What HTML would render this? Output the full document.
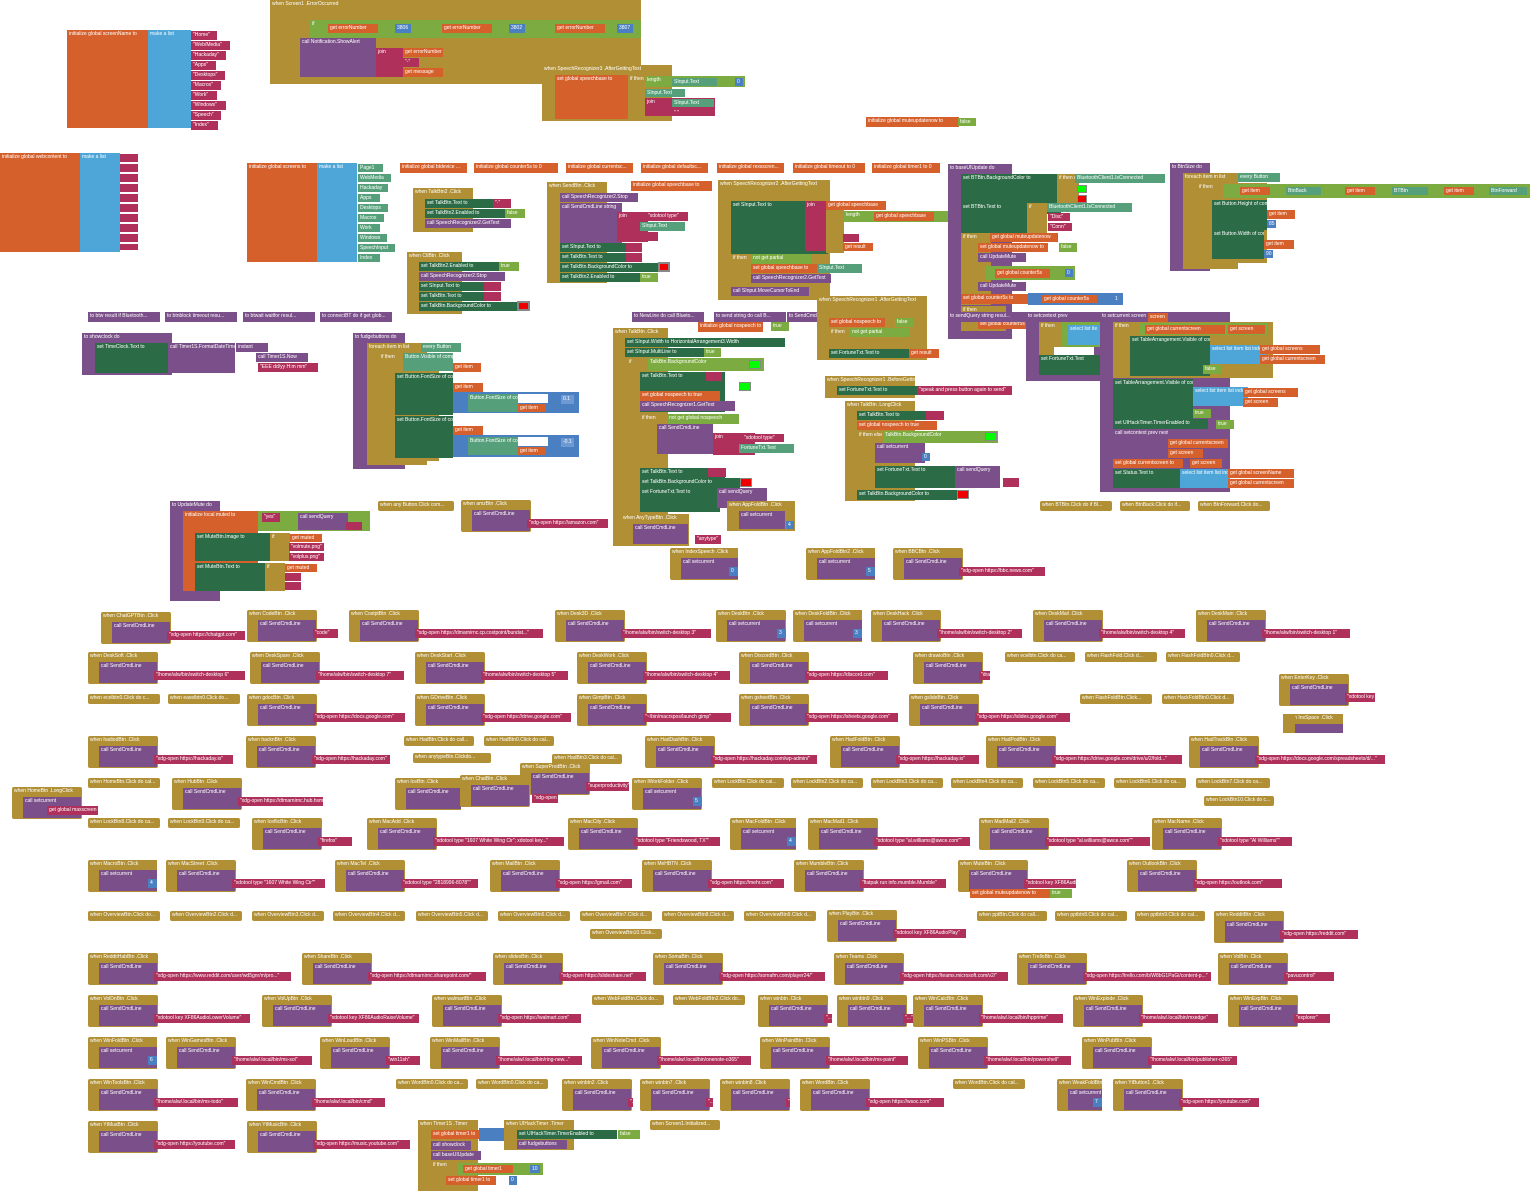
<!DOCTYPE html>
<html><head><meta charset="utf-8"><style>
body{margin:0;width:1534px;height:1195px;position:relative;background:#fff;font:5px "Liberation Sans",sans-serif;color:#fff;overflow:hidden}
div{position:absolute;box-sizing:border-box;white-space:nowrap;overflow:hidden;line-height:9px;padding-left:2px}
.G{background:#b08f35}.P{background:#7b4f89}.K{background:#b0305c}.O{background:#d6602c}.B{background:#4da5d8}.D{background:#2b6b46}.L{background:#7cab41}.M{background:#55a07a}.N{background:#4a7fc1}.W{background:#fff}
.e{height:32px;padding:0}
.e .g{left:0;top:0;width:70px;height:32px;background:#b08f35;border-radius:2px}
.e .p{left:11px;top:10px;width:58px;height:21px;background:#7b4f89}
.e .k{left:66px;right:0;top:19px;height:9px;background:#b0305c}
.e .kb{left:auto;right:0;width:9px;background:#4a7fc1}
.c{height:10px;width:76px;background:#b08f35;border-radius:2px}
.cp{height:10px;width:72px;background:#7b4f89}
.co{height:10px;width:72px;background:#d6602c}
</style></head><body>

<!-- init screenName -->
<div class="O" style="left:67px;top:30px;width:81px;height:98px">initialize global screenName to</div>
<div class="B" style="left:148px;top:30px;width:43px;height:98px">make a list</div>
<div class="K" style="left:191px;top:31px;width:26px;height:9px">"Home"</div>
<div class="K" style="left:191px;top:41px;width:39px;height:9px">"Web/Media"</div>
<div class="K" style="left:191px;top:51px;width:35px;height:9px">"Hackaday"</div>
<div class="K" style="left:191px;top:61px;width:25px;height:9px">"Apps"</div>
<div class="K" style="left:191px;top:71px;width:34px;height:9px">"Desktops"</div>
<div class="K" style="left:191px;top:81px;width:30px;height:9px">"Macros"</div>
<div class="K" style="left:191px;top:91px;width:26px;height:9px">"Work"</div>
<div class="K" style="left:191px;top:101px;width:35px;height:9px">"Windows"</div>
<div class="K" style="left:191px;top:111px;width:30px;height:9px">"Speech"</div>
<div class="K" style="left:191px;top:121px;width:27px;height:9px">"Index"</div>

<!-- ErrorOccurred -->
<div class="G" style="left:270px;top:0;width:371px;height:84px">when Screen1 .ErrorOccurred</div>
<div class="W" style="left:283px;top:22px;width:358px;height:60px;background:transparent"></div>
<div class="L" style="left:310px;top:20px;width:331px;height:18px">if</div>
<div class="O" style="left:328px;top:24px;width:50px;height:9px">get errorNumber</div>
<div class="N" style="left:395px;top:24px;width:16px;height:9px">3806</div>
<div class="O" style="left:442px;top:24px;width:50px;height:9px">get errorNumber</div>
<div class="N" style="left:509px;top:24px;width:16px;height:9px">3802</div>
<div class="O" style="left:555px;top:24px;width:50px;height:9px">get errorNumber</div>
<div class="N" style="left:617px;top:24px;width:16px;height:9px">3807</div>
<div class="P" style="left:300px;top:38px;width:76px;height:39px">call Notification.ShowAlert</div>
<div class="K" style="left:376px;top:48px;width:27px;height:29px">join</div>
<div class="O" style="left:403px;top:48px;width:40px;height:9px">get errorNumber</div>
<div class="K" style="left:403px;top:58px;width:16px;height:9px">"-"</div>
<div class="O" style="left:403px;top:68px;width:40px;height:9px">get message</div>

<!-- SpeechRecognizer AfterGettingText top -->
<div class="G" style="left:542px;top:65px;width:130px;height:56px">when SpeechRecognizer3 .AfterGettingText</div>
<div class="O" style="left:555px;top:75px;width:73px;height:44px">set global speechbase to</div>
<div class="G" style="left:628px;top:75px;width:40px;height:36px">if then else</div>
<div class="L" style="left:645px;top:76px;width:100px;height:11px">length</div>
<div class="M" style="left:672px;top:78px;width:45px;height:8px">SInput.Text</div>
<div class="N" style="left:735px;top:78px;width:8px;height:8px">0</div>
<div class="M" style="left:645px;top:89px;width:40px;height:8px">SInput.Text</div>
<div class="K" style="left:645px;top:98px;width:70px;height:18px">join</div>
<div class="M" style="left:672px;top:99px;width:42px;height:8px">SInput.Text</div>
<div class="K" style="left:672px;top:109px;width:16px;height:7px">" "</div>

<div class="O" style="left:866px;top:117px;width:93px;height:10px">initialize global muteupdatenow to</div>
<div class="L" style="left:958px;top:118px;width:18px;height:8px">false</div>

<!-- webcontent -->
<div class="O" style="left:0;top:153px;width:80px;height:99px">initialize global webcontent to</div>
<div class="B" style="left:80px;top:153px;width:40px;height:99px">make a list</div>
<div class="K" style="left:120px;top:154px;width:18px;height:96px;background:repeating-linear-gradient(#b0305c 0 8px,#fff 8px 10px)"></div>

<!-- screens -->
<div class="O" style="left:247px;top:163px;width:70px;height:99px">initialize global screens to</div>
<div class="B" style="left:317px;top:163px;width:40px;height:99px">make a list</div>
<div class="M" style="left:358px;top:164px;width:25px;height:8px">Page1</div>
<div class="M" style="left:358px;top:174px;width:33px;height:8px">WebMedia</div>
<div class="M" style="left:358px;top:184px;width:30px;height:8px">Hackaday</div>
<div class="M" style="left:358px;top:194px;width:22px;height:8px">Apps</div>
<div class="M" style="left:358px;top:204px;width:30px;height:8px">Desktops</div>
<div class="M" style="left:358px;top:214px;width:26px;height:8px">Macros</div>
<div class="M" style="left:358px;top:224px;width:22px;height:8px">Work</div>
<div class="M" style="left:358px;top:234px;width:29px;height:8px">Windows</div>
<div class="M" style="left:358px;top:244px;width:37px;height:8px">SpeechInput</div>
<div class="M" style="left:358px;top:254px;width:22px;height:8px">Index</div>

<div class="co" style="left:400px;top:163px;width:67px">initialize global btdevice ...</div>
<div class="co" style="left:474px;top:163px;width:84px">initialize global counter5s to 0</div>
<div class="co" style="left:566px;top:163px;width:67px">initialize global currentsc...</div>
<div class="co" style="left:641px;top:163px;width:67px">initialize global defaultsc...</div>
<div class="co" style="left:717px;top:163px;width:67px">initialize global rexsscren...</div>
<div class="co" style="left:793px;top:163px;width:72px">initialize global timeout to 0</div>
<div class="co" style="left:872px;top:163px;width:68px">initialize global timer1 to 0</div>

<!-- Talk2 click -->
<div class="G" style="left:413px;top:188px;width:60px;height:44px">when TalkBtn2 .Click</div>
<div class="D" style="left:425px;top:199px;width:68px;height:9px">set TalkBtn.Text to</div>
<div class="K" style="left:493px;top:199px;width:18px;height:9px">"·"</div>
<div class="D" style="left:425px;top:209px;width:83px;height:9px">set TalkBtn2.Enabled to</div>
<div class="L" style="left:505px;top:209px;width:20px;height:9px">false</div>
<div class="P" style="left:425px;top:219px;width:86px;height:9px">call SpeechRecognizer2.GetText</div>
<!-- CtlBtn -->
<div class="G" style="left:407px;top:252px;width:55px;height:62px">when CtlBtn .Click</div>
<div class="D" style="left:419px;top:262px;width:80px;height:9px">set TalkBtn2.Enabled to</div>
<div class="L" style="left:499px;top:262px;width:20px;height:9px">true</div>
<div class="P" style="left:419px;top:272px;width:86px;height:9px">call SpeechRecognizer2.Stop</div>
<div class="D" style="left:419px;top:282px;width:65px;height:9px">set SInput.Text to</div>
<div class="K" style="left:484px;top:282px;width:17px;height:9px"></div>
<div class="D" style="left:419px;top:292px;width:65px;height:9px">set TalkBtn.Text to</div>
<div class="K" style="left:484px;top:292px;width:17px;height:9px"></div>
<div class="D" style="left:419px;top:302px;width:100px;height:9px">set TalkBtn.BackgroundColor to</div>
<div style="left:517px;top:301px;width:13px;height:10px;background:#e00;border:2px solid #888"></div>

<!-- SendBtn -->
<div class="G" style="left:547px;top:182px;width:60px;height:101px">when SendBtn .Click</div>
<div class="P" style="left:560px;top:193px;width:78px;height:9px">call SpeechRecognizer2.Stop</div>
<div class="P" style="left:560px;top:203px;width:62px;height:41px">call SendCmdLine string</div>
<div class="K" style="left:617px;top:212px;width:31px;height:30px">join</div>
<div class="K" style="left:646px;top:212px;width:42px;height:9px">"xdotool type"</div>
<div class="M" style="left:640px;top:222px;width:45px;height:9px">SInput.Text</div>
<div class="K" style="left:640px;top:232px;width:18px;height:9px"></div>
<div class="D" style="left:560px;top:243px;width:68px;height:9px">set SInput.Text to</div>
<div class="K" style="left:626px;top:243px;width:16px;height:9px"></div>
<div class="D" style="left:560px;top:253px;width:68px;height:9px">set TalkBtn.Text to</div>
<div class="K" style="left:626px;top:253px;width:16px;height:9px"></div>
<div class="D" style="left:560px;top:263px;width:100px;height:9px">set TalkBtn.BackgroundColor to</div>
<div style="left:658px;top:262px;width:12px;height:10px;background:#e00;border:2px solid #888"></div>
<div class="D" style="left:560px;top:273px;width:80px;height:9px">set TalkBtn2.Enabled to</div>
<div class="L" style="left:640px;top:273px;width:18px;height:9px">true</div>
<div class="co" style="left:631px;top:181px;width:81px">initialize global speechbase to</div>

<!-- SpeechRecognizer2 AfterGettingText -->
<div class="G" style="left:718px;top:180px;width:112px;height:120px">when SpeechRecognizer2 .AfterGettingText</div>
<div class="D" style="left:731px;top:201px;width:97px;height:53px">set SInput.Text to</div>
<div class="K" style="left:805px;top:201px;width:22px;height:50px">join</div>
<div class="G" style="left:826px;top:201px;width:18px;height:52px"></div>
<div class="O" style="left:826px;top:201px;width:60px;height:9px">get global speechbase</div>
<div class="L" style="left:844px;top:211px;width:116px;height:11px">length</div>
<div class="O" style="left:874px;top:212px;width:60px;height:9px">get global speechbase</div>
<div class="N" style="left:950px;top:212px;width:8px;height:8px">0</div>
<div class="K" style="left:843px;top:234px;width:16px;height:8px"></div>
<div class="O" style="left:843px;top:243px;width:30px;height:8px">get result</div>
<div class="G" style="left:731px;top:254px;width:20px;height:32px">if then</div>
<div class="L" style="left:751px;top:254px;width:60px;height:10px">not get partial</div>
<div class="O" style="left:751px;top:264px;width:66px;height:9px">set global speechbase to</div>
<div class="M" style="left:817px;top:264px;width:45px;height:9px">SInput.Text</div>
<div class="P" style="left:751px;top:274px;width:80px;height:9px">call SpeechRecognizer2.GetText</div>
<div class="P" style="left:731px;top:287px;width:78px;height:9px">call SInput.MoveCursorToEnd</div>

<!-- barsUIUpdate -->
<div class="P" style="left:948px;top:164px;width:64px;height:175px">to baseUIUpdate do</div>
<div class="D" style="left:961px;top:174px;width:100px;height:40px">set BTBtn.BackgroundColor to</div>
<div class="G" style="left:1057px;top:174px;width:22px;height:30px">if then else</div>
<div class="M" style="left:1075px;top:174px;width:90px;height:9px">BluetoothClient1.IsConnected</div>
<div style="left:1077px;top:185px;width:10px;height:8px;background:#0f0;border:1px solid #888"></div>
<div style="left:1077px;top:195px;width:10px;height:8px;background:#e00;border:1px solid #888"></div>
<div class="D" style="left:961px;top:203px;width:70px;height:30px">set BTBtn.Text to</div>
<div class="G" style="left:1027px;top:203px;width:20px;height:30px">if</div>
<div class="M" style="left:1047px;top:203px;width:85px;height:9px">BluetoothClient1.IsConnected</div>
<div class="K" style="left:1048px;top:213px;width:22px;height:8px">"Disc"</div>
<div class="K" style="left:1048px;top:223px;width:24px;height:8px">"Conn"</div>
<div class="G" style="left:961px;top:233px;width:30px;height:72px">if then</div>
<div class="O" style="left:990px;top:233px;width:68px;height:9px">get global muteupdatenow</div>
<div class="O" style="left:978px;top:243px;width:70px;height:9px">set global muteupdatenow to</div>
<div class="L" style="left:1059px;top:243px;width:18px;height:9px">false</div>
<div class="P" style="left:978px;top:253px;width:48px;height:9px">call UpdateMute</div>
<div class="L" style="left:985px;top:266px;width:90px;height:14px"></div>
<div class="O" style="left:995px;top:269px;width:55px;height:9px">get global counter5s</div>
<div class="N" style="left:1065px;top:269px;width:8px;height:8px">0</div>
<div class="P" style="left:978px;top:282px;width:48px;height:9px">call UpdateMute</div>
<div class="O" style="left:961px;top:294px;width:70px;height:10px">set global counter5s to</div>
<div class="N" style="left:1028px;top:293px;width:95px;height:12px"></div>
<div class="O" style="left:1042px;top:295px;width:55px;height:8px">get global counter5s</div>
<div class="N" style="left:1113px;top:295px;width:8px;height:8px">1</div>
<div class="G" style="left:961px;top:306px;width:45px;height:25px">if then</div>
<div class="O" style="left:978px;top:320px;width:50px;height:9px">set global counter5s</div>
<div class="cp" style="left:948px;top:312px;width:80px">to sendQuery string resul...</div>

<!-- BtnSize -->
<div class="P" style="left:1170px;top:163px;width:40px;height:108px">to BtnSize do</div>
<div class="G" style="left:1183px;top:173px;width:55px;height:96px">foreach item in list</div>
<div class="M" style="left:1238px;top:173px;width:42px;height:9px">every Button</div>
<div class="G" style="left:1197px;top:183px;width:70px;height:80px">if then</div>
<div class="L" style="left:1223px;top:184px;width:307px;height:14px"></div>
<div class="O" style="left:1240px;top:187px;width:30px;height:8px">get item</div>
<div class="M" style="left:1286px;top:187px;width:35px;height:8px">BtnBack</div>
<div class="O" style="left:1345px;top:187px;width:30px;height:8px">get item</div>
<div class="M" style="left:1392px;top:187px;width:36px;height:8px">BTBtn</div>
<div class="O" style="left:1444px;top:187px;width:30px;height:8px">get item</div>
<div class="M" style="left:1489px;top:187px;width:38px;height:8px">BtnForward</div>
<div class="D" style="left:1212px;top:200px;width:55px;height:30px">set Button.Height of component to</div>
<div class="O" style="left:1267px;top:210px;width:28px;height:9px">get item</div>
<div class="N" style="left:1267px;top:220px;width:9px;height:8px">85</div>
<div class="D" style="left:1212px;top:230px;width:52px;height:29px">set Button.Width of component to</div>
<div class="O" style="left:1264px;top:240px;width:30px;height:9px">get item</div>
<div class="N" style="left:1264px;top:250px;width:9px;height:8px">90</div>

<!-- collapsed purple row -->
<div class="cp" style="left:88px;top:312px">to btw result if Bluetooth...</div>
<div class="cp" style="left:165px;top:312px">to btnblock timeout resu...</div>
<div class="cp" style="left:243px;top:312px">to btwait waitfor resul...</div>
<div class="cp" style="left:320px;top:312px">to connectBT do if get glob...</div>
<div class="cp" style="left:632px;top:312px">to NewLine do call Blueto...</div>
<div class="cp" style="left:714px;top:312px">to send string do call B...</div>
<div class="cp" style="left:787px;top:312px;width:34px">to SendCmd...</div>
<div class="co" style="left:698px;top:322px;width:65px">initialize global nospeech to</div>
<div class="L" style="left:771px;top:322px;width:18px;height:9px">true</div>

<!-- showclock -->
<div class="P" style="left:82px;top:333px;width:90px;height:42px">to showclock do</div>
<div class="D" style="left:95px;top:343px;width:73px;height:30px">set TimeClock.Text to</div>
<div class="P" style="left:168px;top:343px;width:67px;height:30px">call Timer1S.FormatDateTime</div>
<div class="P" style="left:236px;top:343px;width:32px;height:9px">instant</div>
<div class="P" style="left:256px;top:353px;width:52px;height:9px">call Timer1S.Now</div>
<div class="K" style="left:258px;top:363px;width:60px;height:9px">"EEE dd/yy H:m mm"</div>

<!-- fudgebuttons -->
<div class="P" style="left:353px;top:333px;width:52px;height:136px">to fudgebuttons do</div>
<div class="G" style="left:367px;top:343px;width:60px;height:122px">foreach item in list</div>
<div class="M" style="left:421px;top:343px;width:40px;height:9px">every Button</div>
<div class="G" style="left:379px;top:353px;width:60px;height:108px">if then</div>
<div class="M" style="left:403px;top:353px;width:50px;height:18px">Button.Visible of component</div>
<div class="O" style="left:453px;top:363px;width:28px;height:9px">get item</div>
<div class="D" style="left:395px;top:373px;width:58px;height:42px">set Button.FontSize of component to</div>
<div class="O" style="left:453px;top:383px;width:30px;height:9px">get item</div>
<div class="N" style="left:453px;top:392px;width:126px;height:21px"></div>
<div class="M" style="left:468px;top:394px;width:50px;height:18px">Button.FontSize of component</div>
<div class="W" style="left:518px;top:394px;width:30px;height:9px"></div>
<div class="O" style="left:518px;top:404px;width:28px;height:8px">get item</div>
<div class="W" style="left:561px;top:395px;width:13px;height:9px;background:#6d9ad3">0.1</div>
<div class="D" style="left:395px;top:416px;width:58px;height:42px">set Button.FontSize of component to</div>
<div class="O" style="left:453px;top:426px;width:30px;height:9px">get item</div>
<div class="N" style="left:453px;top:435px;width:126px;height:22px"></div>
<div class="M" style="left:468px;top:437px;width:50px;height:18px">Button.FontSize of component</div>
<div class="W" style="left:518px;top:437px;width:30px;height:9px"></div>
<div class="O" style="left:518px;top:447px;width:28px;height:8px">get item</div>
<div class="W" style="left:561px;top:438px;width:13px;height:9px;background:#6d9ad3">-0.1</div>

<!-- TalkBtn click big -->
<div class="G" style="left:613px;top:328px;width:55px;height:218px">when TalkBtn .Click</div>
<div class="D" style="left:625px;top:338px;width:160px;height:9px">set SInput.Width to HorizontalArrangement3.Width</div>
<div class="D" style="left:625px;top:348px;width:96px;height:9px">set SInput.MultiLine to</div>
<div class="L" style="left:704px;top:348px;width:17px;height:9px">true</div>
<div class="G" style="left:627px;top:358px;width:30px;height:155px">if</div>
<div class="L" style="left:648px;top:358px;width:116px;height:13px">TalkBtn.BackgroundColor</div>
<div style="left:749px;top:360px;width:12px;height:9px;background:#0f0;border:1px solid #888"></div>
<div class="D" style="left:640px;top:372px;width:85px;height:40px">set TalkBtn.Text to</div>
<div class="K" style="left:706px;top:372px;width:16px;height:9px"></div>
<div style="left:739px;top:382px;width:12px;height:9px;background:#0f0;border:1px solid #888"></div>
<div class="O" style="left:640px;top:391px;width:80px;height:10px">set global nospeech to true</div>
<div class="P" style="left:640px;top:401px;width:95px;height:10px">call SpeechRecognizer1.GetText</div>
<div class="G" style="left:640px;top:414px;width:30px;height:35px">if then</div>
<div class="L" style="left:667px;top:414px;width:72px;height:10px">not get global nospeech</div>
<div class="P" style="left:657px;top:424px;width:56px;height:30px">call SendCmdLine</div>
<div class="K" style="left:713px;top:433px;width:42px;height:22px">join</div>
<div class="K" style="left:742px;top:434px;width:42px;height:8px">"xdotool type"</div>
<div class="M" style="left:739px;top:444px;width:55px;height:9px">FortuneTxt.Text</div>
<div class="D" style="left:640px;top:468px;width:85px;height:10px">set TalkBtn.Text to</div>
<div class="K" style="left:708px;top:468px;width:18px;height:9px"></div>
<div class="D" style="left:640px;top:478px;width:100px;height:10px">set TalkBtn.BackgroundColor to</div>
<div style="left:740px;top:478px;width:12px;height:9px;background:#e00;border:1px solid #888"></div>
<div class="D" style="left:640px;top:488px;width:80px;height:24px">set FortuneTxt.Text to</div>
<div class="P" style="left:717px;top:488px;width:50px;height:20px">call sendQuery</div>
<div class="G" style="left:621px;top:514px;width:68px;height:32px">when AnyTypeBtn .Click</div>
<div class="P" style="left:633px;top:524px;width:55px;height:20px">call SendCmdLine</div>
<div class="K" style="left:695px;top:535px;width:26px;height:9px">"anytype"</div>
<div class="G" style="left:727px;top:501px;width:68px;height:30px">when AppFoldBtn .Click</div>
<div class="P" style="left:739px;top:511px;width:46px;height:18px">call setcurrent</div>
<div class="N" style="left:786px;top:521px;width:8px;height:8px">4</div>

<!-- SpeechRecognizer1 AfterGettingText -->
<div class="G" style="left:817px;top:296px;width:110px;height:64px">when SpeechRecognizer1 .AfterGettingText</div>
<div class="O" style="left:829px;top:318px;width:56px;height:9px">set global nospeech to</div>
<div class="L" style="left:895px;top:318px;width:18px;height:9px">false</div>
<div class="G" style="left:829px;top:328px;width:25px;height:20px">if then</div>
<div class="L" style="left:850px;top:328px;width:60px;height:9px">not get partial</div>
<div class="D" style="left:829px;top:349px;width:80px;height:9px">set FortuneTxt.Text to</div>
<div class="O" style="left:909px;top:349px;width:30px;height:9px">get result</div>
<!-- BeforeGettingText -->
<div class="G" style="left:825px;top:376px;width:90px;height:22px">when SpeechRecognizer1 .BeforeGettingText</div>
<div class="D" style="left:837px;top:386px;width:80px;height:9px">set FortuneTxt.Text to</div>
<div class="K" style="left:917px;top:386px;width:95px;height:9px">"speak and press button again to send"</div>
<!-- Talk2 LongClick -->
<div class="G" style="left:845px;top:401px;width:70px;height:100px">when TalkBtn .LongClick</div>
<div class="D" style="left:857px;top:411px;width:70px;height:9px">set TalkBtn.Text to</div>
<div class="K" style="left:926px;top:411px;width:18px;height:9px"></div>
<div class="O" style="left:857px;top:421px;width:80px;height:9px">set global nospeech to true</div>
<div class="G" style="left:857px;top:431px;width:25px;height:56px">if then else</div>
<div class="L" style="left:883px;top:431px;width:115px;height:12px">TalkBtn.BackgroundColor</div>
<div style="left:985px;top:432px;width:12px;height:9px;background:#0f0;border:1px solid #888"></div>
<div class="P" style="left:875px;top:443px;width:50px;height:20px">call setcurrent</div>
<div class="N" style="left:922px;top:453px;width:8px;height:8px">0</div>
<div class="D" style="left:875px;top:466px;width:80px;height:22px">set FortuneTxt.Text to</div>
<div class="P" style="left:955px;top:466px;width:45px;height:22px">call sendQuery</div>
<div class="K" style="left:1003px;top:478px;width:16px;height:9px"></div>
<div class="D" style="left:857px;top:490px;width:100px;height:10px">set TalkBtn.BackgroundColor to</div>
<div style="left:957px;top:490px;width:12px;height:9px;background:#e00;border:1px solid #888"></div>

<!-- setcontext / setcurrent -->
<div class="P" style="left:1026px;top:312px;width:82px;height:69px">to setcontext prev</div>
<div class="G" style="left:1039px;top:322px;width:40px;height:43px">if then</div>
<div class="L" style="left:1062px;top:322px;width:45px;height:25px"></div>
<div class="B" style="left:1068px;top:325px;width:40px;height:20px">select list ite</div>
<div class="W" style="left:1054px;top:347px;width:40px;height:8px"></div>
<div class="D" style="left:1039px;top:355px;width:62px;height:20px">set FortuneTxt.Text</div>
<div class="P" style="left:1100px;top:312px;width:130px;height:180px">to setcurrent screen</div>
<div class="O" style="left:1148px;top:313px;width:20px;height:9px">screen</div>
<div class="G" style="left:1113px;top:322px;width:160px;height:56px">if then</div>
<div class="L" style="left:1140px;top:323px;width:127px;height:12px"></div>
<div class="O" style="left:1145px;top:325px;width:80px;height:9px">get global currentscreen</div>
<div class="O" style="left:1228px;top:325px;width:37px;height:9px">get screen</div>
<div class="D" style="left:1130px;top:336px;width:80px;height:40px">set TableArrangement.Visible of component</div>
<div class="B" style="left:1210px;top:345px;width:55px;height:19px">select list item list index</div>
<div class="O" style="left:1260px;top:345px;width:60px;height:9px">get global screens</div>
<div class="O" style="left:1260px;top:355px;width:65px;height:9px">get global currentscreen</div>
<div class="L" style="left:1203px;top:365px;width:18px;height:9px">false</div>
<div class="D" style="left:1113px;top:379px;width:80px;height:40px">set TableArrangement.Visible of component</div>
<div class="B" style="left:1193px;top:387px;width:55px;height:19px">select list item list index</div>
<div class="O" style="left:1243px;top:388px;width:55px;height:9px">get global screens</div>
<div class="O" style="left:1243px;top:398px;width:35px;height:9px">get screen</div>
<div class="L" style="left:1193px;top:409px;width:18px;height:9px">true</div>
<div class="D" style="left:1113px;top:419px;width:95px;height:10px">set UIHackTimer.TimerEnabled to</div>
<div class="L" style="left:1216px;top:420px;width:18px;height:9px">true</div>
<div class="P" style="left:1113px;top:429px;width:55px;height:30px">call setcontext prev next</div>
<div class="O" style="left:1168px;top:439px;width:60px;height:9px">get global currentscreen</div>
<div class="O" style="left:1168px;top:449px;width:35px;height:9px">get screen</div>
<div class="O" style="left:1113px;top:459px;width:70px;height:9px">set global currentscreen to</div>
<div class="O" style="left:1190px;top:459px;width:32px;height:9px">get screen</div>
<div class="D" style="left:1113px;top:469px;width:70px;height:19px">set Status.Text to</div>
<div class="B" style="left:1180px;top:469px;width:50px;height:19px">select list item list index</div>
<div class="O" style="left:1228px;top:469px;width:66px;height:9px">get global screenName</div>
<div class="O" style="left:1228px;top:479px;width:66px;height:9px">get global currentscreen</div>

<div class="c" style="left:1040px;top:501px;width:72px">when BTBtn.Click do if Bl...</div>
<div class="c" style="left:1120px;top:501px;width:70px">when BtnBack.Click do if...</div>
<div class="c" style="left:1198px;top:501px;width:72px">when BtnForward.Click do...</div>

<!-- UpdateMute -->
<div class="P" style="left:170px;top:501px;width:50px;height:100px">to UpdateMute do</div>
<div class="O" style="left:183px;top:511px;width:75px;height:80px">initialize local muted to</div>
<div class="K" style="left:258px;top:511px;width:110px;height:20px"></div>
<div class="L" style="left:258px;top:511px;width:112px;height:20px"></div>
<div class="K" style="left:262px;top:513px;width:18px;height:9px">"yes"</div>
<div class="P" style="left:298px;top:513px;width:50px;height:17px">call sendQuery</div>
<div class="K" style="left:346px;top:522px;width:16px;height:8px"></div>
<div class="D" style="left:195px;top:533px;width:75px;height:28px">set MuteBtn.Image to</div>
<div class="G" style="left:270px;top:533px;width:20px;height:28px">if</div>
<div class="O" style="left:290px;top:534px;width:32px;height:8px">get muted</div>
<div class="K" style="left:289px;top:543px;width:35px;height:8px">"volmute.png"</div>
<div class="K" style="left:289px;top:553px;width:35px;height:8px">"volplus.png"</div>
<div class="D" style="left:195px;top:563px;width:70px;height:28px">set MuteBtn.Text to</div>
<div class="G" style="left:265px;top:563px;width:20px;height:28px">if</div>
<div class="O" style="left:285px;top:564px;width:32px;height:8px">get muted</div>
<div class="K" style="left:285px;top:573px;width:16px;height:8px"></div>
<div class="K" style="left:285px;top:582px;width:16px;height:8px"></div>

<div class="c" style="left:378px;top:501px">when any Button.Click com...</div>
<div class="e" style="left:461px;top:500px;width:147px"><div class="g">when amzBtn .Click</div><div class="p">call SendCmdLine</div><div class="k">"xdg-open https://amazon.com"</div></div>
<div class="c" style="left:413px;top:753px;width:78px">when anytypeBtn.Clickdo...</div>
<div class="e" style="left:670px;top:548px;width:68px"><div class="g">when IndexSpeech .Click</div><div class="p">call setcurrent</div><div class="k kb">0</div></div>
<div class="e" style="left:806px;top:548px;width:69px"><div class="g">when AppFoldBtn2 .Click</div><div class="p">call setcurrent</div><div class="k kb">5</div></div>
<div class="e" style="left:893px;top:548px;width:152px"><div class="g">when BBCBtn .Click</div><div class="p">call SendCmdLine</div><div class="k">"xdg-open https://bbc.news.com"</div></div>

<!-- Row 610 -->
<div class="e" style="left:101px;top:612px;width:144px"><div class="g">when ChatGPTBtn .Click</div><div class="p">call SendCmdLine</div><div class="k">"xdg-open https://chatgpt.com"</div></div>
<div class="e" style="left:247px;top:610px;width:91px"><div class="g">when CodeBtn .Click</div><div class="p">call SendCmdLine</div><div class="k">"code"</div></div>
<div class="e" style="left:349px;top:610px;width:194px"><div class="g">when CostptBtn .Click</div><div class="p">call SendCmdLine</div><div class="k">"xdg-open https://dmarnirnc.cp.costpoint/bundat..."</div></div>
<div class="e" style="left:555px;top:610px;width:156px"><div class="g">when Desk3D .Click</div><div class="p">call SendCmdLine</div><div class="k">"/home/alw/bin/switch-desktop 3"</div></div>
<div class="e" style="left:716px;top:610px;width:70px"><div class="g">when DeskBtn .Click</div><div class="p">call setcurrent</div><div class="k kb">3</div></div>
<div class="e" style="left:793px;top:610px;width:69px"><div class="g">when DeskFoldBtn .Click</div><div class="p">call setcurrent</div><div class="k kb">3</div></div>
<div class="e" style="left:871px;top:610px;width:151px"><div class="g">when DeskHack .Click</div><div class="p">call SendCmdLine</div><div class="k">"/home/alw/bin/switch-desktop 2"</div></div>
<div class="e" style="left:1033px;top:610px;width:152px"><div class="g">when DeskMail .Click</div><div class="p">call SendCmdLine</div><div class="k">"/home/alw/bin/switch-desktop 4"</div></div>
<div class="e" style="left:1196px;top:610px;width:154px"><div class="g">when DeskMain .Click</div><div class="p">call SendCmdLine</div><div class="k">"/home/alw/bin/switch-desktop 1"</div></div>

<!-- Row 652 -->
<div class="e" style="left:88px;top:652px;width:157px"><div class="g">when DeskSoft .Click</div><div class="p">call SendCmdLine</div><div class="k">"/home/alw/bin/switch-desktop 6"</div></div>
<div class="e" style="left:250px;top:652px;width:154px"><div class="g">when DeskSpare .Click</div><div class="p">call SendCmdLine</div><div class="k">"/home/alw/bin/switch-desktop 7"</div></div>
<div class="e" style="left:415px;top:652px;width:153px"><div class="g">when DeskStart .Click</div><div class="p">call SendCmdLine</div><div class="k">"/home/alw/bin/switch-desktop 5"</div></div>
<div class="e" style="left:577px;top:652px;width:153px"><div class="g">when DeskWork .Click</div><div class="p">call SendCmdLine</div><div class="k">"/home/alw/bin/switch-desktop 4"</div></div>
<div class="e" style="left:739px;top:652px;width:149px"><div class="g">when DiscordBtn .Click</div><div class="p">call SendCmdLine</div><div class="k">"xdg-open https://discord.com"</div></div>
<div class="e" style="left:913px;top:652px;width:77px"><div class="g">when drawioBtn .Click</div><div class="p">call SendCmdLine</div><div class="k">"drawio"</div></div>
<div class="c" style="left:1005px;top:652px;width:70px">when ecelbtn.Click do ca...</div>
<div class="c" style="left:1085px;top:652px;width:72px">when FlashFold.Click d...</div>
<div class="c" style="left:1166px;top:652px;width:74px">when FlashFoldBtn0.Click d...</div>

<!-- Row 694 -->
<div class="c" style="left:88px;top:694px;width:72px">when ecelbtn0.Click do c...</div>
<div class="c" style="left:168px;top:694px;width:72px">when eaxelbtn0.Click do...</div>
<div class="e" style="left:247px;top:694px;width:158px"><div class="g">when gdocBtn .Click</div><div class="p">call SendCmdLine</div><div class="k">"xdg-open https://docs.google.com"</div></div>
<div class="e" style="left:415px;top:694px;width:156px"><div class="g">when GDriveBtn .Click</div><div class="p">call SendCmdLine</div><div class="k">"xdg-open https://drive.google.com"</div></div>
<div class="e" style="left:577px;top:694px;width:154px"><div class="g">when GimpBtn .Click</div><div class="p">call SendCmdLine</div><div class="k">"~/bin/macrspos/launch gimp"</div></div>
<div class="e" style="left:739px;top:694px;width:159px"><div class="g">when gsheetBtn .Click</div><div class="p">call SendCmdLine</div><div class="k">"xdg-open https://sheets.google.com"</div></div>
<div class="e" style="left:909px;top:694px;width:161px"><div class="g">when gslideBtn .Click</div><div class="p">call SendCmdLine</div><div class="k">"xdg-open https://slides.google.com"</div></div>
<div class="c" style="left:1080px;top:694px;width:72px">when FlashFoldBtn.Click...</div>
<div class="c" style="left:1162px;top:694px;width:72px">when HackFoldBtn0.Click d...</div>
<div class="e" style="left:1279px;top:674px;width:96px"><div class="g">when EnterKey .Click</div><div class="p">call SendCmdLine</div><div class="k">"xdotool key Return"</div></div>
<div class="G" style="left:1283px;top:714px;width:60px;height:10px">when InsSpace .Click</div>
<div class="G" style="left:1283px;top:714px;width:12px;height:19px"></div>
<div class="P" style="left:1295px;top:724px;width:48px;height:9px"></div>

<!-- Row 736 -->
<div class="e" style="left:88px;top:736px;width:145px"><div class="g">when hadiodBtn .Click</div><div class="p">call SendCmdLine</div><div class="k">"xdg-open https://hackaday.io"</div></div>
<div class="e" style="left:246px;top:736px;width:144px"><div class="g">when hacknBtn .Click</div><div class="p">call SendCmdLine</div><div class="k">"xdg-open https://hackaday.com"</div></div>
<div class="c" style="left:404px;top:736px;width:70px">when HadBtn.Click do call...</div>
<div class="c" style="left:484px;top:736px;width:70px">when HadBtn0.Click do cal...</div>
<div class="c" style="left:552px;top:754px;width:70px">when HadBtn3.Click do cal...</div>
<div class="e" style="left:645px;top:736px;width:172px"><div class="g">when HadDashBtn .Click</div><div class="p">call SendCmdLine</div><div class="k">"xdg-open https://hackaday.com/wp-admin/"</div></div>
<div class="e" style="left:830px;top:736px;width:149px"><div class="g">when HadFoldBtn .Click</div><div class="p">call SendCmdLine</div><div class="k">"xdg-open https://hackaday.io"</div></div>
<div class="e" style="left:986px;top:736px;width:196px"><div class="g">when HadPodBtn .Click</div><div class="p">call SendCmdLine</div><div class="k">"xdg-open https://drive.google.com/drive/u/2/fold..."</div></div>
<div class="e" style="left:1189px;top:736px;width:196px"><div class="g">when HadTrackBtn .Click</div><div class="p">call SendCmdLine</div><div class="k">"xdg-open https://docs.google.com/spreadsheets/d/..."</div></div>

<!-- Row 778 -->
<div class="c" style="left:88px;top:778px;width:72px">when HomeBtn.Click do cal...</div>
<div class="e" style="left:12px;top:787px;width:86px"><div class="g">when HomeBtn .LongClick</div><div class="p">call setcurrent</div><div class="k" style="left:35px">get global maxscreen</div></div>
<div class="e" style="left:172px;top:778px;width:151px"><div class="g">when HubBtn .Click</div><div class="p">call SendCmdLine</div><div class="k">"xdg-open https://dtmarnirnc.hub.hsmart.com/fe/..."</div></div>
<div class="e" style="left:395px;top:778px;width:66px"><div class="g">when IceBtn .Click</div><div class="p">call SendCmdLine</div><div class="k">"..."</div></div>
<div class="e" style="left:520px;top:763px;width:109px"><div class="g">when SuperProdBtn .Click</div><div class="p">call SendCmdLine</div><div class="k">"superproductivity"</div></div>
<div class="e" style="left:460px;top:775px;width:98px"><div class="g">when ChatBtn .Click</div><div class="p">call SendCmdLine</div><div class="k" style="left:72px">"xdg-open https://www.chatgpt.com"</div></div>
<div class="e" style="left:632px;top:778px;width:70px"><div class="g">when IWorkFolder .Click</div><div class="p">call setcurrent</div><div class="k kb">5</div></div>
<div class="c" style="left:712px;top:778px;width:72px">when LockBtn.Click do cal...</div>
<div class="c" style="left:791px;top:778px;width:72px">when LockBtn2.Click do ca...</div>
<div class="c" style="left:871px;top:778px;width:72px">when LockBtn3.Click do ca...</div>
<div class="c" style="left:951px;top:778px;width:72px">when LockBtn4.Click do ca...</div>
<div class="c" style="left:1033px;top:778px;width:72px">when LockBtn5.Click do ca...</div>
<div class="c" style="left:1114px;top:778px;width:72px">when LockBtn6.Click do ca...</div>
<div class="c" style="left:1196px;top:778px;width:74px">when LockBtn7.Click do ca...</div>
<div class="c" style="left:1204px;top:796px;width:70px">when LockBtn10.Click do c...</div>

<!-- Row 818 -->
<div class="c" style="left:88px;top:818px;width:72px">when LockBtn8.Click do ca...</div>
<div class="c" style="left:168px;top:818px;width:72px">when LockBtn9.Click do ca...</div>
<div class="e" style="left:252px;top:818px;width:100px"><div class="g">when IceflicBtn .Click</div><div class="p">call SendCmdLine</div><div class="k">"firefox"</div></div>
<div class="e" style="left:367px;top:818px;width:197px"><div class="g">when MacAdd .Click</div><div class="p">call SendCmdLine</div><div class="k">"xdotool type "1607 White Wing Cir"; xdotool key..."</div></div>
<div class="e" style="left:568px;top:818px;width:152px"><div class="g">when MacCity .Click</div><div class="p">call SendCmdLine</div><div class="k">"xdotool type "Friendswood, TX""</div></div>
<div class="e" style="left:730px;top:818px;width:66px"><div class="g">when MacFoldBtn .Click</div><div class="p">call setcurrent</div><div class="k kb">4</div></div>
<div class="e" style="left:808px;top:818px;width:162px"><div class="g">when MacMail1 .Click</div><div class="p">call SendCmdLine</div><div class="k">"xdotool type "al.williams@awce.com""</div></div>
<div class="e" style="left:979px;top:818px;width:171px"><div class="g">when MadMail2 .Click</div><div class="p">call SendCmdLine</div><div class="k">"xdotool type "al.williams@awce.com""</div></div>
<div class="e" style="left:1152px;top:818px;width:140px"><div class="g">when MacName .Click</div><div class="p">call SendCmdLine</div><div class="k">"xdotool type "Al Williams""</div></div>

<!-- Row 860 -->
<div class="e" style="left:88px;top:860px;width:69px"><div class="g">when MacroBtn .Click</div><div class="p">call setcurrent</div><div class="k kb">4</div></div>
<div class="e" style="left:166px;top:860px;width:159px"><div class="g">when MacStreet .Click</div><div class="p">call SendCmdLine</div><div class="k">"xdotool type "1607 White Wing Cir""</div></div>
<div class="e" style="left:335px;top:860px;width:143px"><div class="g">when MacTel .Click</div><div class="p">call SendCmdLine</div><div class="k">"xdotool type "2818996-8078""</div></div>
<div class="e" style="left:490px;top:860px;width:142px"><div class="g">when MailBtn .Click</div><div class="p">call SendCmdLine</div><div class="k">"xdg-open https://gmail.com"</div></div>
<div class="e" style="left:642px;top:860px;width:142px"><div class="g">when MeHBTN .Click</div><div class="p">call SendCmdLine</div><div class="k">"xdg-open https://mehr.com"</div></div>
<div class="e" style="left:794px;top:860px;width:152px"><div class="g">when MumbleBtn .Click</div><div class="p">call SendCmdLine</div><div class="k">"flatpak run info.mumble.Mumble"</div></div>
<div class="e" style="left:958px;top:860px;width:118px"><div class="g">when MuteBtn .Click</div><div class="p">call SendCmdLine</div><div class="k">"xdotool key XF86AudioM..."</div></div>
<div class="O" style="left:970px;top:889px;width:80px;height:9px">set global muteupdatenow to</div>
<div class="L" style="left:1050px;top:889px;width:22px;height:9px">true</div>
<div class="e" style="left:1127px;top:860px;width:155px"><div class="g">when OutlookBtn .Click</div><div class="p">call SendCmdLine</div><div class="k">"xdg-open https://outlook.com"</div></div>

<!-- Row 912 -->
<div class="c" style="left:88px;top:911px;width:72px">when OverviewBtn.Click do...</div>
<div class="c" style="left:170px;top:911px;width:72px">when OverviewBtn2.Click d...</div>
<div class="c" style="left:252px;top:911px;width:72px">when OverviewBtn3.Click d...</div>
<div class="c" style="left:333px;top:911px;width:72px">when OverviewBtn4.Click d...</div>
<div class="c" style="left:416px;top:911px;width:72px">when OverviewBtn5.Click d...</div>
<div class="c" style="left:498px;top:911px;width:72px">when OverviewBtn6.Click d...</div>
<div class="c" style="left:580px;top:911px;width:72px">when OverviewBtn7.Click d...</div>
<div class="c" style="left:662px;top:911px;width:72px">when OverviewBtn8.Click d...</div>
<div class="c" style="left:744px;top:911px;width:72px">when OverviewBtn9.Click d...</div>
<div class="c" style="left:590px;top:929px;width:72px">when OverviewBtn10.Click...</div>
<div class="e" style="left:827px;top:910px;width:139px"><div class="g">when PlayBtn .Click</div><div class="p">call SendCmdLine</div><div class="k">"xdotool key XF86AudioPlay"</div></div>
<div class="c" style="left:977px;top:911px;width:70px">when pptBtn.Click do call...</div>
<div class="c" style="left:1055px;top:911px;width:72px">when pptbtn8.Click do cal...</div>
<div class="c" style="left:1135px;top:911px;width:70px">when pptbtn9.Click do cal...</div>
<div class="e" style="left:1214px;top:911px;width:144px"><div class="g">when RedditBtn .Click</div><div class="p">call SendCmdLine</div><div class="k">"xdg-open https://reddit.com"</div></div>

<!-- Row 954 -->
<div class="e" style="left:88px;top:953px;width:203px"><div class="g">when RedditHabBtn .Click</div><div class="p">call SendCmdLine</div><div class="k">"xdg-open https://www.reddit.com/user/wd5gnr/m/pro..."</div></div>
<div class="e" style="left:302px;top:953px;width:184px"><div class="g">when ShareBtn .Click</div><div class="p">call SendCmdLine</div><div class="k">"xdg-open https://dtmarnirnc.sharepoint.com/"</div></div>
<div class="e" style="left:493px;top:953px;width:153px"><div class="g">when slidesBtn .Click</div><div class="p">call SendCmdLine</div><div class="k">"xdg-open https://slideshare.net"</div></div>
<div class="e" style="left:653px;top:953px;width:172px"><div class="g">when SomaBtn .Click</div><div class="p">call SendCmdLine</div><div class="k">"xdg-open https://somafm.com/player24/"</div></div>
<div class="e" style="left:834px;top:953px;width:174px"><div class="g">when Teams .Click</div><div class="p">call SendCmdLine</div><div class="k">"xdg-open https://teams.microsoft.com/v2/"</div></div>
<div class="e" style="left:1017px;top:953px;width:194px"><div class="g">when TrelloBtn .Click</div><div class="p">call SendCmdLine</div><div class="k">"xdg-open https://trello.com/b/W8bG1PaGi/content-p..."</div></div>
<div class="e" style="left:1218px;top:953px;width:116px"><div class="g">when VolBtn .Click</div><div class="p">call SendCmdLine</div><div class="k">"pavucontrol"</div></div>

<!-- Row 996 -->
<div class="e" style="left:88px;top:995px;width:162px"><div class="g">when VolDnBtn .Click</div><div class="p">call SendCmdLine</div><div class="k">"xdotool key XF86AudioLowerVolume"</div></div>
<div class="e" style="left:262px;top:995px;width:157px"><div class="g">when VolUpBtn .Click</div><div class="p">call SendCmdLine</div><div class="k">"xdotool key XF86AudioRaiseVolume"</div></div>
<div class="e" style="left:432px;top:995px;width:149px"><div class="g">when walmartBtn .Click</div><div class="p">call SendCmdLine</div><div class="k">"xdg-open https://walmart.com"</div></div>
<div class="c" style="left:592px;top:995px;width:72px">when WebFoldBtn.Click do...</div>
<div class="c" style="left:673px;top:995px;width:72px">when WebFoldBtn2.Click do...</div>
<div class="e" style="left:758px;top:995px;width:74px"><div class="g">when winbtn .Click</div><div class="p">call SendCmdLine</div><div class="k">"..."</div></div>
<div class="e" style="left:837px;top:995px;width:76px"><div class="g">when winbtn9 .Click</div><div class="p">call SendCmdLine</div><div class="k">"..."</div></div>
<div class="e" style="left:913px;top:995px;width:150px"><div class="g">when WinCalcBtn .Click</div><div class="p">call SendCmdLine</div><div class="k">"/home/alw/.local/bin/hpprime"</div></div>
<div class="e" style="left:1073px;top:995px;width:145px"><div class="g">when WinExplode .Click</div><div class="p">call SendCmdLine</div><div class="k">"/home/alw/.local/bin/mxedge"</div></div>
<div class="e" style="left:1228px;top:995px;width:102px"><div class="g">when WinExpBtn .Click</div><div class="p">call SendCmdLine</div><div class="k">"explorer"</div></div>

<!-- Row 1038 -->
<div class="e" style="left:88px;top:1037px;width:69px"><div class="g">when WinFoldBtn .Click</div><div class="p">call setcurrent</div><div class="k kb">6</div></div>
<div class="e" style="left:166px;top:1037px;width:146px"><div class="g">when WinGamesBtn .Click</div><div class="p">call SendCmdLine</div><div class="k">"/home/alw/.local/bin/ms-sol"</div></div>
<div class="e" style="left:320px;top:1037px;width:100px"><div class="g">when WinLoudBtn .Click</div><div class="p">call SendCmdLine</div><div class="k">"win11sh"</div></div>
<div class="e" style="left:430px;top:1037px;width:152px"><div class="g">when WinMailBtn .Click</div><div class="p">call SendCmdLine</div><div class="k">"/home/alw/.local/bin/ring-new..."</div></div>
<div class="e" style="left:591px;top:1037px;width:160px"><div class="g">when WinNoteCmd .Click</div><div class="p">call SendCmdLine</div><div class="k">"/home/alw/.local/bin/onenote-o365"</div></div>
<div class="e" style="left:760px;top:1037px;width:148px"><div class="g">when WinPaintBtn .Click</div><div class="p">call SendCmdLine</div><div class="k">"/home/alw/.local/bin/ms-paint"</div></div>
<div class="e" style="left:918px;top:1037px;width:153px"><div class="g">when WinPSBtn .Click</div><div class="p">call SendCmdLine</div><div class="k">"/home/alw/.local/bin/powershell"</div></div>
<div class="e" style="left:1082px;top:1037px;width:155px"><div class="g">when WinPubBtn .Click</div><div class="p">call SendCmdLine</div><div class="k">"/home/alw/.local/bin/publisher-o365"</div></div>

<!-- Row 1080 -->
<div class="e" style="left:88px;top:1079px;width:150px"><div class="g">when WinToolsBtn .Click</div><div class="p">call SendCmdLine</div><div class="k">"/home/alw/.local/bin/ms-todo"</div></div>
<div class="e" style="left:246px;top:1079px;width:139px"><div class="g">when WinCmdBtn .Click</div><div class="p">call SendCmdLine</div><div class="k">"/home/alw/.local/bin/cmd"</div></div>
<div class="c" style="left:396px;top:1079px;width:72px">when WordBtn0.Click do ca...</div>
<div class="c" style="left:476px;top:1079px;width:72px">when WordBtn0.Click do ca...</div>
<div class="e" style="left:562px;top:1079px;width:71px"><div class="g">when winbtn2 .Click</div><div class="p">call SendCmdLine</div><div class="k">"..."</div></div>
<div class="e" style="left:640px;top:1079px;width:73px"><div class="g">when winbtn7 .Click</div><div class="p">call SendCmdLine</div><div class="k">"..."</div></div>
<div class="e" style="left:720px;top:1079px;width:70px"><div class="g">when winbtn8 .Click</div><div class="p">call SendCmdLine</div><div class="k">"..."</div></div>
<div class="e" style="left:800px;top:1079px;width:144px"><div class="g">when WordBtn .Click</div><div class="p">call SendCmdLine</div><div class="k">"xdg-open https://wsoc.com"</div></div>
<div class="c" style="left:953px;top:1079px;width:72px">when WordBtn.Click do cal...</div>
<div class="e" style="left:1057px;top:1079px;width:45px"><div class="g">when WeakFoldBtn .Click</div><div class="p">call setcurrent</div><div class="k kb">7</div></div>
<div class="e" style="left:1113px;top:1079px;width:146px"><div class="g">when YtButton1 .Click</div><div class="p">call SendCmdLine</div><div class="k">"xdg-open https://youtube.com"</div></div>

<!-- Row 1122 -->
<div class="e" style="left:88px;top:1121px;width:147px"><div class="g">when YtMusBtn .Click</div><div class="p">call SendCmdLine</div><div class="k">"xdg-open https://youtube.com"</div></div>
<div class="e" style="left:247px;top:1121px;width:163px"><div class="g">when YtMusicBtn .Click</div><div class="p">call SendCmdLine</div><div class="k">"xdg-open https://music.youtube.com"</div></div>
<div class="G" style="left:418px;top:1120px;width:60px;height:71px">when Timer1S .Timer</div>
<div class="O" style="left:431px;top:1130px;width:55px;height:9px">set global timer1 to</div>
<div class="N" style="left:479px;top:1128px;width:40px;height:13px"></div>
<div class="P" style="left:431px;top:1141px;width:40px;height:9px">call showclock</div>
<div class="P" style="left:431px;top:1151px;width:50px;height:9px">call baseUIUpdate</div>
<div class="G" style="left:431px;top:1161px;width:30px;height:27px">if then</div>
<div class="L" style="left:458px;top:1163px;width:85px;height:12px"></div>
<div class="O" style="left:463px;top:1165px;width:50px;height:8px">get global timer1</div>
<div class="N" style="left:530px;top:1165px;width:10px;height:8px">10</div>
<div class="O" style="left:446px;top:1176px;width:50px;height:9px">set global timer1 to</div>
<div class="N" style="left:509px;top:1176px;width:8px;height:9px">0</div>
<div class="G" style="left:504px;top:1120px;width:70px;height:30px">when UIHackTimer .Timer</div>
<div class="D" style="left:517px;top:1130px;width:100px;height:9px">set UIHackTimer.TimerEnabled to</div>
<div class="L" style="left:618px;top:1130px;width:22px;height:9px">false</div>
<div class="P" style="left:517px;top:1140px;width:50px;height:9px">call fudgebuttons</div>
<div class="c" style="left:650px;top:1120px;width:70px">when Screen1.Initialized...</div>

</body></html>
